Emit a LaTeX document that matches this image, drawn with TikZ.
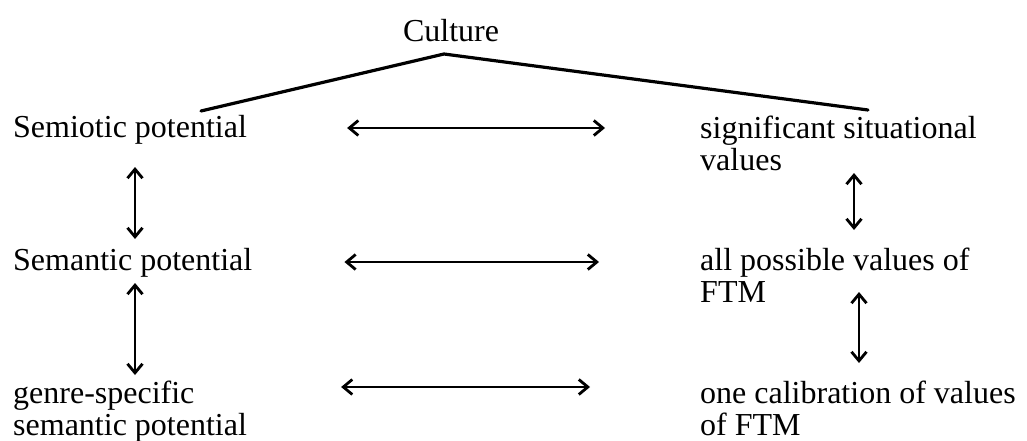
\documentclass[tikz,border=0pt]{standalone}
\usepackage{fontspec}
\setmainfont{Liberation Serif}
\usetikzlibrary{arrows.meta}
\begin{document}
\begin{tikzpicture}[x=1pt,y=-1pt,
  lbl/.style={anchor=base west,inner sep=0pt,align=left,
    font=\fontsize{32}{32}\selectfont},
  twoway/.style={line width=2.8pt,
    {Straight Barb[length=9pt,width=15pt]}-{Straight Barb[length=9pt,width=15pt]}},
  tree/.style={line width=3.2pt,line cap=round}]
% canvas
\fill[white] (0,0) rectangle (1027,441);
\useasboundingbox (0,0) rectangle (1027,441);

% labels (a two-line label sits on the baseline of its last line)
\node[lbl,anchor=base] (culture) at (451,42) {Culture};
\node[lbl] (semio)  at (13,138) {Semiotic potential};
\node[lbl] (semant) at (13,270) {Semantic potential};
\node[lbl] (genre)  at (13,435) {genre-specific\\semantic potential};
\node[lbl] (sig)    at (700,170) {significant situational\\values};
\node[lbl] (allv)   at (700,302) {all possible values of\\FTM};
\node[lbl] (onecal) at (700,435) {one calibration of values\\of FTM};

% the culture branches
\coordinate (apex) at (444,54);
\coordinate (lend) at (201,111);
\coordinate (rend) at (868,110);
\draw[tree] (lend) -- (apex) -- (rend);

% horizontal relations
\draw[twoway] ([xshift=100pt,yshift=10pt]semio.base east) -- ([xshift=-95pt,yshift=42pt]sig.base west);
\draw[twoway] ([xshift=92pt,yshift=8pt]semant.base east) -- ([xshift=-101pt,yshift=40pt]allv.base west);
\draw[twoway] ([xshift=94pt,yshift=48pt]genre.base east) -- ([xshift=-110pt,yshift=48pt]onecal.base west);

% vertical relations, left column
\draw[twoway] ([xshift=122pt,yshift=-29pt]semio.base west) -- ([xshift=122pt,yshift=31pt]semant.base west);
\draw[twoway] ([xshift=122pt,yshift=-13pt]semant.base west) -- ([xshift=122pt,yshift=60pt]genre.base west);

% vertical relations, right column
\draw[twoway] ([xshift=154pt,yshift=-3pt]sig.base west) -- ([xshift=154pt,yshift=72pt]allv.base west);
\draw[twoway] ([xshift=159pt,yshift=10pt]allv.base west) -- ([xshift=159pt,yshift=72pt]onecal.base west);
\end{tikzpicture}
\end{document}
